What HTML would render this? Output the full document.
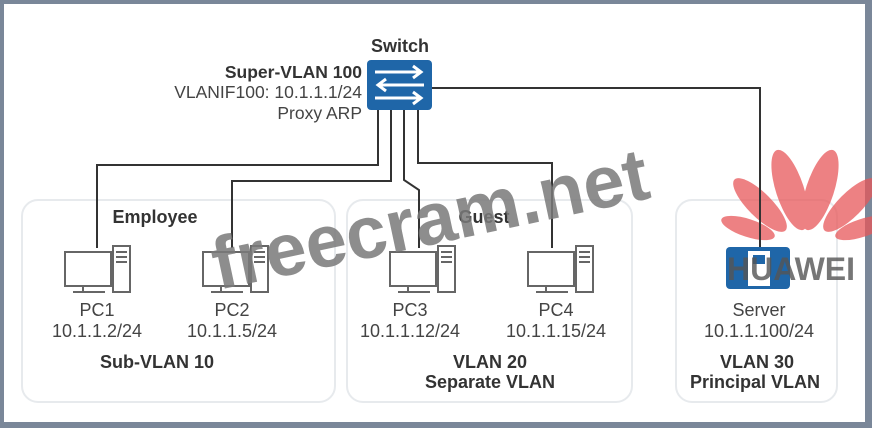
<!DOCTYPE html>
<html><head><meta charset="utf-8"><style>
html,body{margin:0;padding:0;background:#fff;}
svg{display:block;}
text{font-family:"Liberation Sans","DejaVu Sans",sans-serif;fill:#444;}
.b{font-weight:bold;fill:#333;}
</style></head><body>
<svg width="872" height="428" viewBox="0 0 872 428" xmlns="http://www.w3.org/2000/svg">
<rect x="0" y="0" width="872" height="428" fill="#7a8799"/>
<rect x="4" y="4" width="861" height="418" fill="#ffffff"/>

<rect x="22" y="200" width="313" height="202" rx="16" fill="none" stroke="#e7eaed" stroke-width="2"/>
<rect x="347" y="200" width="285" height="202" rx="16" fill="none" stroke="#e7eaed" stroke-width="2"/>
<rect x="676" y="200" width="161" height="202" rx="16" fill="none" stroke="#e7eaed" stroke-width="2"/>

<g fill="#e8585a" opacity="0.75">
<ellipse cx="790" cy="190" rx="14" ry="42" transform="rotate(-18 790 190)"/>
<ellipse cx="820" cy="190" rx="14" ry="42" transform="rotate(18 820 190)"/>
<ellipse cx="760" cy="205" rx="12" ry="36" transform="rotate(-45 760 205)"/>
<ellipse cx="850" cy="205" rx="12" ry="36" transform="rotate(45 850 205)"/>
<ellipse cx="748" cy="228" rx="9" ry="28" transform="rotate(-72 748 228)"/>
<ellipse cx="862" cy="228" rx="9" ry="28" transform="rotate(72 862 228)"/>
</g>

<g fill="none" stroke="#333" stroke-width="2">
<polyline points="378,108 378,165 97,165 97,248"/>
<polyline points="391,108 391,181 232,181 232,248"/>
<polyline points="404,108 404,180 419,190 419,248"/>
<polyline points="418,108 418,163 552,163 552,248"/>
<polyline points="432,88 760,88 760,250"/>
</g>

<rect x="367" y="60" width="65" height="50" rx="4" fill="#1f66a8"/>
<g stroke="#fff" stroke-width="3" fill="none">
<line x1="375" y1="72" x2="420" y2="72"/><polyline points="413,66 421,72 413,78"/>
<line x1="380" y1="85" x2="424" y2="85"/><polyline points="386,79 378,85 386,91"/>
<line x1="375" y1="98" x2="420" y2="98"/><polyline points="413,92 421,98 413,104"/>
</g>
<text x="400" y="52" font-size="18" text-anchor="middle" class="b">Switch</text>
<text x="362" y="78" font-size="17.5" text-anchor="end" class="b">Super-VLAN 100</text>
<text x="362" y="98" font-size="17.5" text-anchor="end">VLANIF100: 10.1.1.1/24</text>
<text x="362" y="119" font-size="17.5" text-anchor="end">Proxy ARP</text>

<defs>
<g id="pc" fill="none" stroke="#666" stroke-width="2">
<rect x="0" y="0" width="46" height="34"/>
<line x1="18" y1="34" x2="18" y2="39"/><line x1="8" y1="40" x2="40" y2="40"/>
<rect x="48" y="-6" width="17" height="46"/>
<line x1="51" y1="0" x2="62" y2="0"/><line x1="51" y1="5" x2="62" y2="5"/><line x1="51" y1="10" x2="62" y2="10"/>
</g>
</defs>
<use href="#pc" x="65" y="252"/>
<use href="#pc" x="203" y="252"/>
<use href="#pc" x="390" y="252"/>
<use href="#pc" x="528" y="252"/>

<rect x="726" y="247" width="64" height="42" rx="4" fill="#1f66a8"/>
<rect x="748" y="251" width="22" height="35" fill="#fff"/>
<rect x="753" y="255" width="12" height="9" fill="#1f66a8"/>

<g font-size="18">
<text x="97" y="316" text-anchor="middle">PC1</text>
<text x="97" y="337" text-anchor="middle">10.1.1.2/24</text>
<text x="232" y="316" text-anchor="middle">PC2</text>
<text x="232" y="337" text-anchor="middle">10.1.1.5/24</text>
<text x="157" y="368" text-anchor="middle" class="b">Sub-VLAN 10</text>
<text x="155" y="223" text-anchor="middle" class="b">Employee</text>

<text x="410" y="316" text-anchor="middle">PC3</text>
<text x="410" y="337" text-anchor="middle">10.1.1.12/24</text>
<text x="556" y="316" text-anchor="middle">PC4</text>
<text x="556" y="337" text-anchor="middle">10.1.1.15/24</text>
<text x="484" y="223" text-anchor="middle" class="b">Guest</text>
<text x="490" y="368" text-anchor="middle" class="b">VLAN 20</text>
<text x="490" y="388" text-anchor="middle" class="b">Separate VLAN</text>

<text x="759" y="316" text-anchor="middle">Server</text>
<text x="759" y="337" text-anchor="middle">10.1.1.100/24</text>
<text x="757" y="368" text-anchor="middle" class="b">VLAN 30</text>
<text x="755" y="388" text-anchor="middle" class="b">Principal VLAN</text>
</g>

<text x="727" y="280" font-size="32" style="fill:#555;opacity:0.8" font-weight="bold">HUAWEI</text>

<text x="218" y="290" font-size="74" font-weight="bold" style="fill:#7a7a7a;opacity:0.85" transform="rotate(-12 218 290)">freecram.net</text>
</svg>
</body></html>
